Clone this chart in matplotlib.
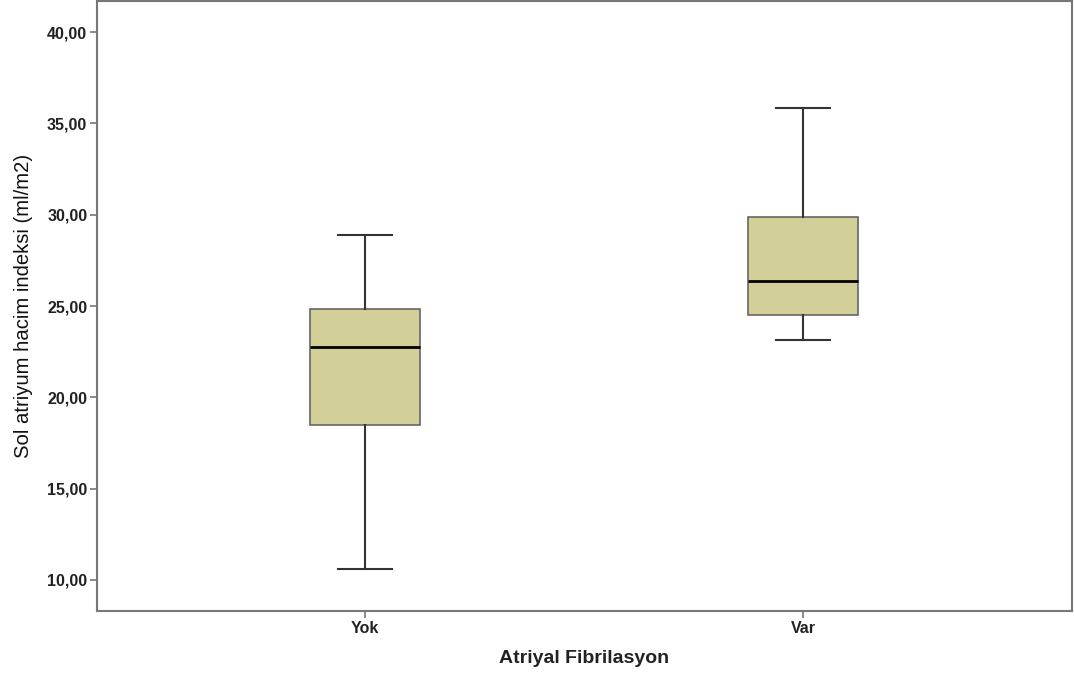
import matplotlib
matplotlib.use("Agg")
import matplotlib.pyplot as plt
from matplotlib.ticker import FuncFormatter

# gruplar ve kutu istatistikleri
gruplar = ["Yok", "Var"]
alt_biyik = [10.61, 23.16]
q1 = [18.47, 24.49]
medyan = [22.74, 26.39]
q3 = [24.84, 29.86]
ust_biyik = [28.91, 35.86]
y_ticks = [10, 15, 20, 25, 30, 35, 40]

plt.rcParams['font.family'] = ['Liberation Sans', 'DejaVu Sans']

stats = []
for i in range(len(gruplar)):
    stats.append({"label": gruplar[i], "whislo": alt_biyik[i], "q1": q1[i],
                  "med": medyan[i], "q3": q3[i], "whishi": ust_biyik[i], "fliers": []})

fig = plt.figure(figsize=(10.74, 6.73), dpi=100)
ax = fig.add_axes([0.0903, 0.0921, 0.9079, 0.9064])

ax.bxp(stats, positions=[1, 2], widths=0.25, patch_artist=True, showfliers=False,
       boxprops=dict(facecolor="#d3cf98", edgecolor="#666666", linewidth=1.2),
       medianprops=dict(color="black", linewidth=2),
       whiskerprops=dict(color="#333333", linewidth=1.5),
       capprops=dict(color="#333333", linewidth=1.5),
       capwidths=0.125)

ax.set_xlim(0.388, 2.614)
ax.set_ylim(8.3, 41.7)
ax.set_yticks(y_ticks)
ax.yaxis.set_major_formatter(FuncFormatter(lambda v, p: "{:.2f}".format(v).replace(".", ",")))

for s in ax.spines.values():
    s.set_color("#777777")
    s.set_linewidth(1.5)
ax.tick_params(axis="both", length=5, width=1.2, color="#777777", pad=2)
for lab in ax.get_yticklabels() + ax.get_xticklabels():
    lab.set_fontsize(11.5)
    lab.set_fontweight("bold")
    lab.set_color("#222222")

ax.set_xlabel("Atriyal Fibrilasyon", fontsize=14, fontweight="bold", color="#222222", labelpad=10)
ax.set_ylabel("Sol atriyum hacim indeksi (ml/m2)", fontsize=14.6, color="#111111")
ax.yaxis.set_label_coords(-0.066, 0.5)

fig.savefig("out.png", dpi=100)
